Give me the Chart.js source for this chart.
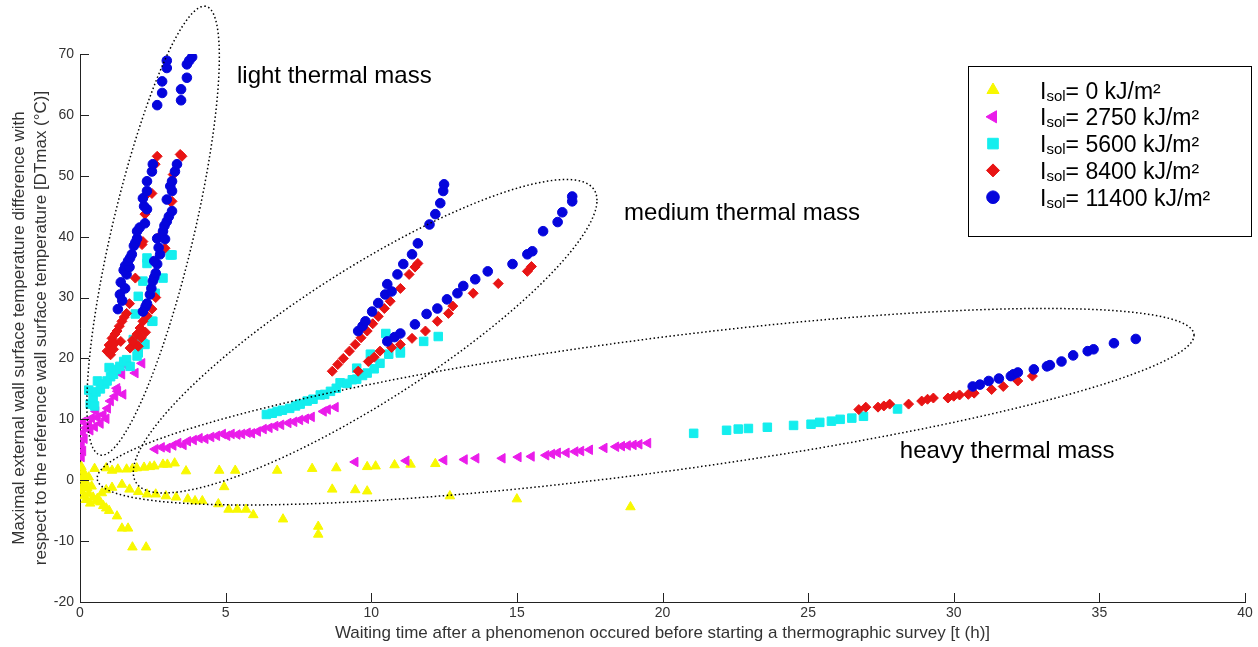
<!DOCTYPE html>
<html>
<head>
<meta charset="utf-8">
<script src="https://cdn.jsdelivr.net/npm/chart.js@4/dist/chart.umd.min.js"></script>
<style>
  html, body { margin: 0; padding: 0; background: #fff; }
  #box { width: 1258px; height: 647px; }
</style>
</head>
<body>
<div id="box"><canvas id="grafico" width="1258" height="647"></canvas></div>
<script>
// valores: [t (h), DTmax (°C)]
const isol0 = [
  [0.05,2.2],[0.1,1.5],[0.15,0.8],[0.05,0.2],[0.2,-0.3],[0.1,-0.9],[0.25,-1.3],[0.05,-1.8],
  [0.3,-2.2],[0.15,-2.6],[0.4,-1.0],[0.3,0.5],[0.45,-2.8],[0.2,-3.2],[0.55,-3.4],[0.35,-3.8],
  [0.6,-3.0],[0.7,-3.6],[0.8,-4.2],[0.9,-4.6],[1.0,-5.0],[0.75,-2.1],[0.9,-1.6],[1.1,-1.2],
  [0.5,1.9],[0.9,2.0],[1.1,1.6],[1.3,1.8],[1.6,1.8],[1.8,1.9],[1.95,2.0],[2.2,2.1],[2.4,2.2],
  [2.55,2.3],[2.85,2.6],[3.0,2.6],[3.25,2.8],[3.64,1.5],[4.78,1.6],[5.33,1.6],[6.77,1.6],
  [7.97,1.9],[8.8,2.0],[9.86,2.2],[10.15,2.3],[10.8,2.5],[11.35,2.6],[12.2,2.7],
  [1.44,-0.7],[1.7,-1.5],[2.0,-1.9],[2.3,-2.3],[2.6,-2.3],[2.95,-2.6],[3.3,-2.8],[3.7,-3.1],
  [3.95,-3.4],[4.2,-3.4],[4.75,-3.9],[4.95,-1.1],[5.1,-4.8],[5.4,-4.8],[5.7,-4.8],[5.95,-5.7],
  [6.97,-6.4],[8.18,-7.6],[8.18,-8.9],[8.66,-1.5],[9.45,-1.6],[9.86,-1.8],[12.7,-2.6],
  [15.0,-3.1],[18.9,-4.4],[1.27,-5.9],[1.44,-7.9],[1.65,-7.9],[1.8,-11],[2.27,-11]
]
const isol2750 = [
  [0.05,3.8],[0.1,4.8],[0.05,5.8],[0.15,6.8],[0.1,7.8],[0.2,8.6],[0.1,9.6],[0.3,9.2],[0.35,8.2],
  [0.4,10.2],[0.5,8.8],[0.55,11.3],[0.6,10.3],[0.7,9.3],[0.8,10.8],[0.9,10.1],[0.95,11.8],
  [1.05,13],[1.2,13.8],[1.3,14.6],[1.48,14.1],[1.27,15.1],[1.44,17.4],[1.6,18.8],[1.9,17.6],[2.13,19.2],
  [2.58,5.1],[2.8,5.4],[3.0,5.3],[3.2,5.7],[3.37,6.1],[3.55,5.8],[3.7,6.4],[3.9,6.6],[4.1,6.9],
  [4.3,6.8],[4.5,7.1],[4.7,7.3],[4.9,7.6],[5.05,7.3],[5.2,7.6],[5.4,7.5],[5.56,7.6],[5.75,7.8],
  [5.9,7.7],[6.1,8.0],[6.3,8.4],[6.5,8.6],[6.7,8.9],[6.9,9.1],[7.15,9.4],[7.35,9.6],[7.55,9.9],
  [7.75,10.1],[7.95,10.4],[8.36,11.3],[8.5,11.6],[8.77,12.0],
  [9.45,3.0],[11.2,3.2],[12.5,3.3],[13.2,3.4],[13.6,3.6],[14.5,3.6],[15.05,3.8],[15.5,3.9],
  [16.0,4.1],[16.2,4.3],[16.4,4.5],[16.7,4.5],[17.0,4.7],[17.2,4.8],[17.5,5.0],[18.0,5.3],
  [18.4,5.5],[18.6,5.6],[18.8,5.7],[19.0,5.8],[19.2,5.9],[19.5,6.1]
]
const isol5600 = [
  [0.3,14.8],[0.35,12.5],[0.45,13.5],[0.5,12.2],[0.55,14.5],[0.7,15],[0.6,16.3],[0.85,15.8],
  [0.93,16.3],[1.05,17.0],[1.15,17.4],[1.0,18.5],[1.25,18.2],[1.37,18.7],[1.5,19.5],[1.6,19.8],
  [1.72,18.7],[1.96,20.4],[2.0,20.9],[2.16,22.5],[2.23,22.3],[1.83,23.1],[2.47,26.1],[2.5,26.1],
  [1.9,27.3],[2.0,30.2],[2.58,30.7],[2.16,32.7],[2.85,33.2],[2.3,35.6],[2.3,36.5],[3.1,37],[3.16,37],
  [6.4,10.8],[6.6,11.0],[6.77,11.3],[6.95,11.5],[7.2,11.8],[7.4,12.2],[7.56,12.5],[7.8,13.0],
  [8.0,13.3],[8.25,14.0],[8.4,14.1],[8.6,14.6],[8.8,15.1],[8.93,16.0],[9.17,15.9],[9.35,16.5],
  [9.5,16.6],[9.5,18.4],[9.7,17.2],[9.86,17.6],[9.97,20.7],[10.1,18.3],[10.3,19.2],[10.5,24.1],
  [10.6,20.7],[11.0,20.9],[11.0,21.2],[11.8,22.8],[12.3,23.6],
  [21.07,7.7],[22.2,8.2],[22.6,8.4],[22.95,8.5],[23.6,8.7],[24.5,9.0],[25.1,9.2],[25.4,9.5],
  [25.8,9.7],[26.1,10.0],[26.5,10.2],[26.9,10.5],[28.07,11.7]
]
const isol8400 = [
  [0.93,21.2],[1.0,22.2],[1.05,20.6],[1.1,23.3],[1.15,21.5],[1.2,22.5],[1.2,24.0],[1.27,24.5],
  [1.35,25.3],[1.4,22.8],[1.44,26.1],[1.52,26.8],[1.6,27.4],[1.7,29.0],[1.9,33.2],[2.13,38.7],
  [2.16,39.2],[2.23,43.7],[2.3,47.0],[2.47,47.1],[2.58,51.9],[2.65,53.2],
  [1.72,21.7],[1.8,23.0],[1.85,22.6],[1.96,24.0],[2.0,22.0],[2.06,25.0],[2.1,23.4],[2.16,26.1],
  [2.25,24.3],[2.3,27.0],[2.47,28.1],[2.6,30.0],[2.8,40.4],[2.92,38.1],[3.1,45.8],[3.16,45.8],
  [3.2,50.2],[3.44,53.5],[3.5,53.2],
  [8.66,17.9],[8.85,19.0],[9.04,20.0],[9.25,21.2],[9.45,22.3],[9.65,23.4],[9.86,24.5],[10.05,25.7],
  [10.24,26.9],[10.45,28.2],[10.65,29.4],[11.0,31.5],[11.3,33.8],[11.5,35.0],[11.6,35.6],
  [9.55,17.9],[9.9,19.5],[10.1,20.2],[10.3,21.2],[10.7,21.8],[11.0,22.3],[11.4,23.3],[11.86,24.5],
  [12.27,26.1],[12.65,27.4],[12.8,28.6],[13.5,30.7],[14.36,32.3],[15.36,34.3],[15.5,35.1],
  [26.74,11.6],[26.98,12.0],[27.4,12.0],[27.6,12.2],[27.8,12.5],[28.45,12.5],[28.9,13.0],[29.1,13.3],
  [29.3,13.5],[29.8,13.5],[30.0,13.8],[30.2,14.0],[30.5,14.1],[30.7,14.3],[31.3,14.9],[31.7,15.4],
  [32.2,16.3],[32.7,17.1]
]
const isol11400 = [
  [2.65,61.6],[2.82,63.6],[2.82,65.5],[2.98,67.7],[2.98,68.9],[3.47,62.4],[3.47,64.2],[3.67,66.1],
  [3.67,68.3],[3.75,68.9],[3.85,69.5],
  [1.3,28.1],[1.37,30.5],[1.45,29.5],[1.4,32.5],[1.55,31.5],[1.6,33.8],[1.5,34.5],[1.55,35.2],
  [1.7,35.0],[1.65,36.0],[1.72,36.5],[1.78,37.1],[1.85,38.5],[1.9,39.0],[1.96,39.7],[1.96,40.9],
  [2.05,41.5],[2.23,42.2],[2.3,44.5],[2.2,45.0],[2.16,46.3],[2.3,47.5],[2.3,49.1],[2.47,50.7],[2.5,51.9],
  [2.16,27.7],[2.25,28.5],[2.3,29.0],[2.4,30.5],[2.45,31.5],[2.5,32.7],[2.55,33.3],[2.6,34.0],
  [2.65,35.5],[2.55,36.0],[2.75,37.1],[2.7,38.2],[2.65,39.7],[2.92,39.6],[2.85,40.9],[2.9,41.8],
  [2.98,42.5],[3.05,43.3],[3.16,44.2],[2.98,46.1],[3.16,47.5],[3.1,48.3],[3.16,49.1],[3.26,50.7],[3.33,51.9],
  [9.55,24.5],[9.7,25.3],[9.8,26.1],[10.03,27.7],[10.24,29.1],[10.48,30.5],[10.7,31.0],[10.55,32.2],
  [10.9,33.8],[11.1,35.5],[11.4,37.1],[11.6,38.9],[12.0,42.0],[12.2,43.7],[12.37,45.5],[12.47,47.5],[12.5,48.6],
  [10.55,22.8],[10.8,23.5],[11.0,24.1],[11.5,25.6],[11.9,27.3],[12.27,28.2],[12.6,29.7],[12.96,30.7],
  [13.16,31.9],[13.57,33.0],[14.0,34.3],[14.85,35.5],[15.36,37.1],[15.53,37.6],[15.9,40.9],[16.4,42.4],
  [16.56,44.0],[16.9,45.8],[16.9,46.6],
  [30.65,15.4],[30.9,15.7],[31.2,16.3],[31.55,16.7],[31.96,17.1],[32.05,17.4],[32.2,17.7],[32.75,18.2],
  [33.2,18.7],[33.3,18.9],[33.7,19.5],[34.1,20.5],[34.6,21.2],[34.8,21.5],[35.5,22.5],[36.25,23.2]
]

const isolValues = ['0', '2750', '5600', '8400', '11400']
const massLabels = ['light thermal mass', 'medium thermal mass', 'heavy thermal mass']
const xTitle = 'Waiting time after a phenomenon occured before starting a thermographic survey [t (h)]'
const yTitle = ['Maximal external wall surface temperature difference with',
                'respect to the reference wall surface temperature [DTmax (°C)]']

// elipses pontilhadas: centro, fim do semi-eixo A, fim do semi-eixo B (em unidades dos eixos)
const ellipses = [
  { c: [2.51, 40.98], a: [4.27, 77.85], b: [3.95, 40.98] },
  { c: [9.79, 23.65], a: [17.75, 45.98], b: [9.79, 36.46] },
  { c: [19.42, 12.07], a: [38.25, 23.81], b: [19.42, 23.14] }
]
const labelAnchors = [[5.39, 65.2], [18.68, 42.7], [28.15, 3.6]]

const FONT = '"Liberation Sans", Arial, Helvetica, sans-serif'

function pontos(arr) {
  return arr.map(function (p) { return { x: p[0], y: p[1] } })
}

function serie(dados, cor, estilo, raio, rot, ordem) {
  return {
    data: pontos(dados),
    backgroundColor: cor,
    borderColor: cor,
    pointStyle: estilo,
    pointRadius: raio,
    pointRotation: rot,
    pointBorderWidth: 1,
    showLine: false,
    order: ordem
  }
}

const extras = {
  id: 'extras',
  afterDraw(chart) {
    const ctx = chart.ctx
    const xs = chart.scales.x
    const ys = chart.scales.y
    const area = chart.chartArea

    // ticks para dentro
    ctx.save()
    ctx.strokeStyle = '#222'
    ctx.lineWidth = 1
    ctx.beginPath()
    xs.ticks.forEach(function (t) {
      const px = Math.round(xs.getPixelForValue(t.value)) + 0.5
      ctx.moveTo(px, area.bottom)
      ctx.lineTo(px, area.bottom - 9)
    })
    ys.ticks.forEach(function (t) {
      const py = Math.round(ys.getPixelForValue(t.value)) + 0.5
      ctx.moveTo(area.left, py)
      ctx.lineTo(area.left + 9, py)
    })
    ctx.stroke()

    // elipses
    ctx.strokeStyle = '#000'
    ctx.lineWidth = 1.5
    ctx.setLineDash([1.5, 2.5])
    ellipses.forEach(function (e) {
      const cx = xs.getPixelForValue(e.c[0]), cy = ys.getPixelForValue(e.c[1])
      const ax = xs.getPixelForValue(e.a[0]) - cx, ay = ys.getPixelForValue(e.a[1]) - cy
      const bx = xs.getPixelForValue(e.b[0]) - cx, by = ys.getPixelForValue(e.b[1]) - cy
      ctx.beginPath()
      for (let i = 0; i <= 360; i++) {
        const t = i * Math.PI / 180
        const px = cx + ax * Math.cos(t) + bx * Math.sin(t)
        const py = cy + ay * Math.cos(t) + by * Math.sin(t)
        if (i === 0) ctx.moveTo(px, py); else ctx.lineTo(px, py)
      }
      ctx.closePath()
      ctx.stroke()
    })
    ctx.setLineDash([])

    // rotulos das massas
    ctx.fillStyle = '#000'
    ctx.font = '24px ' + FONT
    ctx.textBaseline = 'alphabetic'
    ctx.textAlign = 'left'
    massLabels.forEach(function (txt, i) {
      ctx.fillText(txt, xs.getPixelForValue(labelAnchors[i][0]), ys.getPixelForValue(labelAnchors[i][1]))
    })

    // legenda
    const lx = 968, ly = 66, lw = 283, lh = 170
    ctx.fillStyle = '#fff'
    ctx.fillRect(lx, ly, lw, lh)
    ctx.strokeStyle = '#000'
    ctx.lineWidth = 1
    ctx.strokeRect(lx + 0.5, ly + 0.5, lw, lh)
    const sets = chart.data.datasets
    isolValues.forEach(function (v, i) {
      const rowY = 90 + i * 26.8
      const ds = sets[i]
      ctx.fillStyle = ds.backgroundColor
      ctx.strokeStyle = ds.borderColor
      ctx.lineWidth = 1
      Chart.helpers.drawPoint(ctx, {
        pointStyle: ds.pointStyle,
        rotation: ds.pointRotation,
        radius: ds.pointRadius + 1.5,
        borderWidth: 1
      }, 993, rowY)
      let tx = 1040
      const base = rowY + 8.5
      ctx.fillStyle = '#000'
      ctx.font = '23px ' + FONT
      ctx.fillText('I', tx, base)
      tx += ctx.measureText('I').width
      ctx.font = '15px ' + FONT
      ctx.fillText('sol', tx, base + 2)
      tx += ctx.measureText('sol').width
      ctx.font = '23px ' + FONT
      ctx.fillText('= ' + v + ' kJ/m²', tx, base)
    })
    ctx.restore()
  }
}

const grafico = new Chart(document.getElementById('grafico'), {
  type: 'scatter',
  data: {
    datasets: [
      serie(isol0, '#f8f800', 'triangle', 5.5, 0, 5),
      serie(isol2750, '#ea1cea', 'triangle', 5.5, -90, 4),
      serie(isol5600, '#14eeee', 'rect', 6, 0, 3),
      serie(isol8400, '#e81414', 'rectRot', 5, 0, 2),
      serie(isol11400, '#0505dc', 'circle', 4.8, 0, 1)
    ]
  },
  options: {
    responsive: false,
    animation: false,
    devicePixelRatio: 1,
    events: [],
    layout: { padding: { left: 0, top: 54, right: 13, bottom: 0 } },
    plugins: { legend: { display: false }, tooltip: { enabled: false } },
    scales: {
      x: {
        type: 'linear', min: 0, max: 40,
        afterFit: function (s) { s.height = 45 },
        ticks: { stepSize: 5, color: '#333', font: { family: FONT, size: 14 }, padding: 3 },
        grid: { drawOnChartArea: false, drawTicks: false },
        border: { display: true, color: '#222', width: 1 },
        title: { display: true, text: xTitle, color: '#333', font: { family: FONT, size: 17 }, padding: { top: 0, bottom: 3 } }
      },
      y: {
        type: 'linear', min: -20, max: 70,
        afterFit: function (s) { s.width = 80 },
        ticks: { stepSize: 10, color: '#333', font: { family: FONT, size: 14 }, padding: 6 },
        grid: { drawOnChartArea: false, drawTicks: false },
        border: { display: true, color: '#222', width: 1 },
        title: { display: true, text: yTitle, color: '#333', font: { family: FONT, size: 17, lineHeight: 1.25 }, padding: { top: 9, bottom: 0 } }
      }
    }
  },
  plugins: [extras]
})
</script>
</body>
</html>
